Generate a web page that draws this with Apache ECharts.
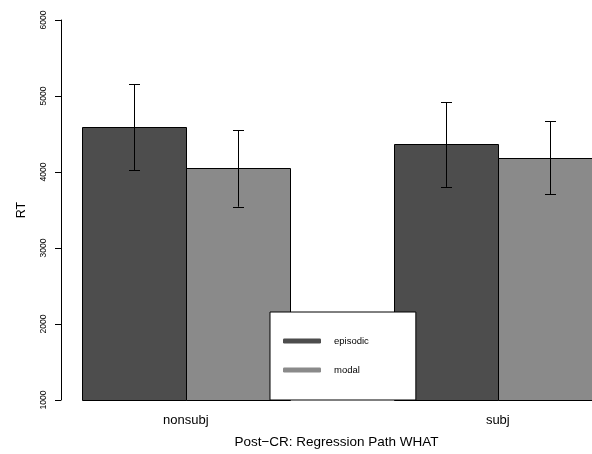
<!DOCTYPE html>
<html>
<head>
<meta charset="utf-8">
<script src="https://cdn.jsdelivr.net/npm/echarts@6/dist/echarts.min.js"></script>
<style>html,body{margin:0;padding:0;background:#fff;}#c{width:592px;height:454px;}</style>
</head>
<body>
<div id="c"></div>
<script>
const categories = ['nonsubj', 'subj'];
const seriesNames = ['episodic', 'modal'];
const episodicMean = [4587, 4365];
const episodicLower = [4021, 3804];
const episodicUpper = [5152, 4921];
const modalMean = [4047, 4187];
const modalLower = [3543, 3708];
const modalUpper = [4552, 4665];
const yTicks = [1000, 2000, 3000, 4000, 5000, 6000];
const xTitle = 'Post\u2212CR: Regression Path WHAT';
const yTitle = 'RT';

const colors = ['#4d4d4d', '#8a8a8a'];
const FONT = "'Liberation Sans', Arial, Helvetica, sans-serif";
const YMIN = yTicks[0], YMAX = yTicks[yTicks.length - 1];

// R barplot layout: beside bars, space = c(0,1) -> group g, series s starts at 1 + 3g + s
function barCenter(g, s) { return 1 + 3 * g + s + 0.5; }
function groupCenter(g) { return 1 + 3 * g + 1; }

function makeData(s, mean, lo, hi) {
  return mean.map((v, g) => [barCenter(g, s), v, lo[g], hi[g]]);
}

function renderBar(color) {
  return function (params, api) {
    const x = api.value(0), v = api.value(1), lo = api.value(2), hi = api.value(3);
    const pTL = api.coord([x - 0.5, v]);
    const pBR = api.coord([x + 0.5, YMIN]);
    const pc = api.coord([x, v]);
    const pl = api.coord([x, lo]);
    const ph = api.coord([x, hi]);
    const cx = Math.round(pc[0]) + 0.5;
    const cap = 5.5;
    const ln = { stroke: '#000', lineWidth: 1 };
    return {
      type: 'group',
      children: [
        { type: 'rect', shape: { x: Math.round(pTL[0]) + 0.5, y: Math.round(pTL[1]) + 0.5, width: Math.round(pBR[0] - pTL[0]), height: Math.round(pBR[1] - pTL[1]) }, style: { fill: color, stroke: '#000', lineWidth: 1 } },
        { type: 'line', shape: { x1: cx, y1: ph[1], x2: cx, y2: pl[1] }, style: ln },
        { type: 'line', shape: { x1: cx - cap, y1: Math.round(ph[1]) + 0.5, x2: cx + cap, y2: Math.round(ph[1]) + 0.5 }, style: ln },
        { type: 'line', shape: { x1: cx - cap, y1: Math.round(pl[1]) + 0.5, x2: cx + cap, y2: Math.round(pl[1]) + 0.5 }, style: ln }
      ]
    };
  };
}

const labelMap = {};
categories.forEach((c, g) => { labelMap[groupCenter(g)] = c; });

// plot region spans x 0.8 .. 6.2 in R (104 px per unit), but the device cuts it at 592 px
const XMIN = 0.8;
const XMAX = XMIN + (592 - 61) / 104;

const chart = echarts.init(document.getElementById('c'), null, { renderer: 'canvas' });
chart.setOption({
  backgroundColor: '#fff',
  animation: false,
  grid: { left: 61, top: 20, width: 531, height: 383.3, containLabel: false },
  xAxis: {
    type: 'value', min: XMIN, max: XMAX,
    axisLine: { show: false }, axisTick: { show: false }, splitLine: { show: false },
    axisLabel: {
      customValues: categories.map((c, g) => groupCenter(g)),
      formatter: v => labelMap[v] || '',
      fontFamily: FONT, fontSize: 13, color: '#000', margin: 14
    },
    name: xTitle, nameLocation: 'middle', nameGap: 35,
    nameTextStyle: { fontFamily: FONT, fontSize: 13.5, color: '#000', padding: [0, 0, 0, 20] }
  },
  yAxis: {
    type: 'value', min: YMIN, max: YMAX, interval: 1000,
    axisLine: { show: true, lineStyle: { color: '#000', width: 1 } },
    axisTick: { show: true, length: 6, lineStyle: { color: '#000' } },
    splitLine: { show: false },
    axisLabel: { rotate: 90, fontFamily: FONT, fontSize: 8.5, color: '#000', margin: 13, formatter: v => String(v) },
    name: yTitle, nameLocation: 'middle', nameRotate: 90, nameGap: 33,
    nameTextStyle: { fontFamily: FONT, fontSize: 12.5, color: '#000' }
  },
  legend: {
    left: 270, top: 312, orient: 'vertical',
    data: seriesNames,
    icon: 'roundRect', itemWidth: 38, itemHeight: 5, itemGap: 19,
    backgroundColor: '#fff', borderColor: '#000', borderWidth: 1, borderRadius: 0,
    padding: [24, 47, 25, 13],
    textStyle: { fontFamily: FONT, fontSize: 9.5, color: '#000', lineHeight: 10, padding: [0, 0, 0, 8] },
    selectedMode: false
  },
  series: [
    { name: seriesNames[0], type: 'custom', itemStyle: { color: colors[0] }, renderItem: renderBar(colors[0]), encode: { x: 0, y: [1, 2, 3] }, data: makeData(0, episodicMean, episodicLower, episodicUpper), clip: false },
    { name: seriesNames[1], type: 'custom', itemStyle: { color: colors[1] }, renderItem: renderBar(colors[1]), encode: { x: 0, y: [1, 2, 3] }, data: makeData(1, modalMean, modalLower, modalUpper), clip: false }
  ]
});
</script>
</body>
</html>
